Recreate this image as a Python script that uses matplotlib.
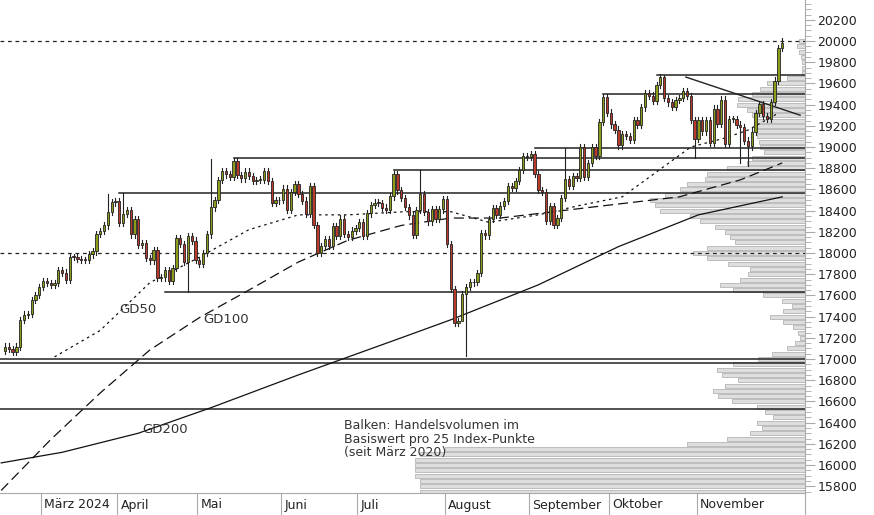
import numpy as np
import pandas as pd
import matplotlib
matplotlib.use("Agg")
import matplotlib.pyplot as plt
from matplotlib.patches import Rectangle
import matplotlib.transforms as mtransforms

# ---------------- data ----------------
closes = [17117, 17092, 17068, 17118, 17370, 17419, 17423, 17556, 17601, 17678,
    # Mar
    17735,17716,17698,17716,17842,17815,17746,17965,17961,17942,17936,17933,17987,18015,18179,18206,18261,18384,18477,18492,
    # Apr
    18283,18367,18403,18175,18318,18077,18097,17954,17930,18026,17766,17770,17837,17737,17860,18137,18088,17917,18161,18118,17932,
    # May
    17896,18001,18175,18430,18498,18686,18773,18742,18716,18869,18738,18704,18768,18726,18680,18691,18693,18774,18677,18473,18496,18498,
    # Jun
    18608,18405,18575,18652,18557,18494,18370,18631,18265,18002,18068,18131,18067,18254,18163,18325,18177,18155,18211,18235,
    # Jul
    18290,18164,18374,18450,18475,18472,18429,18407,18534,18748,18590,18518,18437,18354,18172,18407,18558,18387,18298,18417,18320,18411,18508,
    # Aug
    18083,17661,17339,17354,17615,17680,17723,17726,17812,18185,18166,18322,18421,18357,18448,18493,18633,18617,18681,18782,18912,18906,
    # Sep
    18930,18747,18592,18576,18302,18443,18266,18330,18518,18699,18633,18726,18711,19002,18720,18847,18997,18918,19238,19474,19325,
    # Oct
    19213,19165,19015,19121,19104,19066,19254,19210,19373,19508,19486,19432,19583,19657,19461,19421,19378,19443,19464,19531,19479,19257,19078,
    # Nov
    19255,19148,19256,19039,19363,19215,19448,19033,19263,19264,19211,19189,19060,19005,19146,19323,19406,19295,19262,19426,19626,
    # Dec
    19934, 19980]
first_open = 17080
wick = 30
low_overrides = {48: 17630, 121: 17024, 120: 17620, 193: 18850, 195: 18820, 181: 18900}
high_overrides = {54: 18890, 27: 18560, 31: 18570, 109: 18780, 147: 18990, 173: 19680, 204: 20030}

holidays = pd.to_datetime(["2024-03-29", "2024-04-01", "2024-05-01"])
dates = pd.bdate_range("2024-02-16", "2024-12-03")
dates = dates[~dates.isin(holidays)]

# moving averages: (trading-day index, value)
gd50 = [(13, 17020), (25, 17270), (38, 17720), (51, 17960), (64, 18220), (77, 18360), (90, 18360),
        (105, 18390), (117, 18390), (127, 18290), (140, 18360), (151, 18450), (162, 18530),
        (180, 19000), (189, 19085), (195, 19160), (203, 19320)]
gd100 = [(-1, 15760), (12, 16240), (25, 16680), (38, 17085), (51, 17390), (64, 17650), (77, 17915),
         (90, 18120), (104, 18260), (117, 18330), (130, 18330), (151, 18420), (177, 18530),
         (193, 18690), (204, 18850)]
gd200 = [(-1, 16020), (15, 16120), (35, 16300), (54, 16540), (77, 16850), (104, 17200), (117, 17370),
         (140, 17700), (161, 18060), (182, 18360), (204, 18530)]

# support/resistance levels: (level, start index)
levels = [(17630, 42), (18570, 30), (18780, 102), (18900, 60), (18990, 139), (19500, 157),
          (19680, 171), (17000, -2), (16960, -2), (16530, -2)]
dotted_levels = [20000, 18000]
trend = [(178.7, 19660), (208.7, 19300)]

prof_levels = list(range(15750, 20001, 50))
prof_len = [385,385,385,390,390,390,390,385,360,118,78,55,43,48,32,40,48,73,87,92,80,67,83,88,72,47,33,18,10,5,
            7,12,22,35,22,13,23,42,72,85,65,57,55,77,98,112,98,70,75,80,90,105,115,145,150,155,140,125,118,100,
            98,78,58,53,41,45,46,48,48,48,48,53,58,68,67,53,45,38,18,3,3,3,4,6,8,6]

months = ["März 2024", "April", "Mai", "Juni", "Juli", "August", "September", "Oktober", "November"]

# ---------------- figure ----------------
W, H = 874, 515
fig = plt.figure(figsize=(W/100, H/100), dpi=100)
plot_w, plot_h, bot = 805, 493, 22
ax = fig.add_axes([0, bot/H, plot_w/W, plot_h/H])
px_per_day = 3.81
x0 = -5/px_per_day
x1 = x0 + plot_w/px_per_day
ax.set_xlim(x0, x1)
ax.set_ylim(15736, 20387)

n = len(closes)
opens = [first_open] + closes[:-1]
green, red = "#8c9c1a", "#b83a2a"

# volume profile
for lv, ln in zip(prof_levels, prof_len):
    ax.add_patch(Rectangle((x1 - ln/px_per_day, lv - 19), ln/px_per_day, 38,
                           facecolor="#dedede", edgecolor="#b5b5b5", lw=0.6, zorder=1))

for lv in dotted_levels:
    ax.axhline(lv, color="#222", lw=0.9, ls=(0, (3, 3)), zorder=2)
for lv, s in levels:
    ax.plot([s, x1], [lv, lv], color="#222", lw=1.1, zorder=2)
ax.plot([p[0] for p in trend], [p[1] for p in trend], color="#222", lw=1.0, zorder=2)

for data, ls in [(gd50, (0, (2, 3))), (gd100, (0, (8, 4))), (gd200, "-")]:
    ax.plot([p[0] for p in data], [p[1] for p in data], color="#111", lw=0.9, ls=ls, zorder=3)

for i in range(n):
    o, c = opens[i], closes[i]
    hi = high_overrides.get(i, max(o, c) + wick)
    lo = low_overrides.get(i, min(o, c) - wick)
    ax.plot([i, i], [lo, hi], color="#222", lw=0.8, zorder=4)
    col = green if c >= o else red
    b = max(abs(c - o), 8)
    ax.add_patch(Rectangle((i - 0.3, min(o, c)), 0.6, b, facecolor=col,
                           edgecolor="#222", lw=0.6, zorder=5))

tc = "#333"
ax.text(30, 17430, "GD50", fontsize=9.5, color=tc)
ax.text(52, 17340, "GD100", fontsize=9.5, color=tc)
ax.text(36, 16300, "GD200", fontsize=9.5, color=tc)
ax.text(89, 16430, "Balken: Handelsvolumen im\nBasiswert pro 25 Index-Punkte\n(seit März 2020)",
        fontsize=9, color=tc, va="top", linespacing=1.05)

# axes styling
for s in ["top", "left"]:
    ax.spines[s].set_visible(False)
ax.spines["right"].set_color("#aaaaaa")
ax.spines["bottom"].set_color("#aaaaaa")
ax.yaxis.tick_right()
ax.set_yticks(range(15800, 20201, 200))
ax.set_yticks(range(15750, 20351, 50), minor=True)
ax.tick_params(axis="y", which="major", length=7, color="#aaaaaa", labelsize=9, labelcolor="#222", pad=2)
ax.tick_params(axis="y", which="minor", length=4, color="#aaaaaa")
ax.set_xticks([])

# month separators and labels
trans = mtransforms.blended_transform_factory(ax.transData, ax.transAxes)
mstarts = [i for i in range(1, n) if dates[i].month != dates[i-1].month]
for i, lab in zip(mstarts, months):
    ax.plot([i - 0.5, i - 0.5], [0, -bot/plot_h], transform=trans, color="#aaaaaa", lw=0.8, clip_on=False)
    ax.text(i - 0.5 + 0.8, -12/plot_h, lab, transform=trans, fontsize=9, color="#222", va="center")
ax.plot([x1, x1], [0, -bot/plot_h], transform=trans, color="#aaaaaa", lw=0.8, clip_on=False)

fig.savefig("out.png", dpi=100)
